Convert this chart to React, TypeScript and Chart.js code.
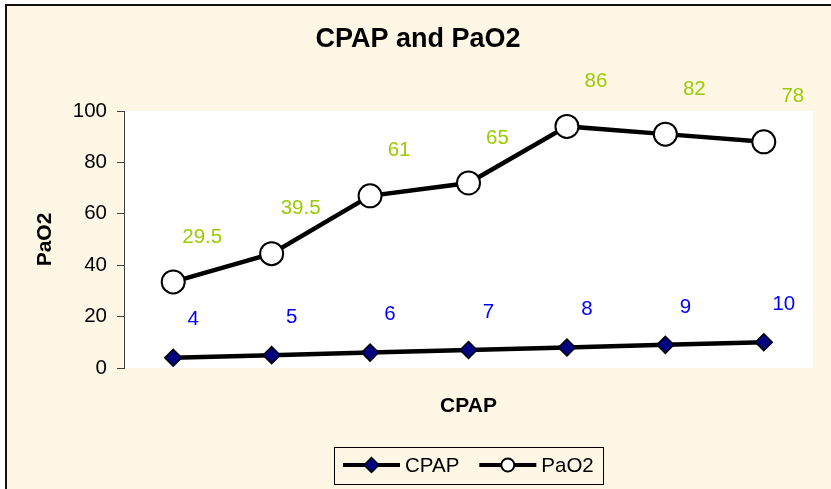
import React, { useEffect, useRef } from "react";
import { Chart, registerables } from "chart.js";

Chart.register(...registerables);

const categories = ["1", "2", "3", "4", "5", "6", "7"];
const cpapValues = [4, 5, 6, 7, 8, 9, 10];
const pao2Values = [29.5, 39.5, 61, 65, 86, 82, 78];
const yTicks = [0, 20, 40, 60, 80, 100];

const FONT = "'Liberation Sans', Arial, sans-serif";
const BG = "#FFF7E6";

const plotBgPlugin = {
  id: "plotBg",
  beforeDraw(chart: any) {
    const { ctx, chartArea } = chart;
    ctx.save();
    ctx.fillStyle = "#FFFFFF";
    ctx.fillRect(chartArea.left, chartArea.top, chartArea.right - chartArea.left, chartArea.bottom - chartArea.top);
    ctx.restore();
  },
};

const dataLabelPlugin = {
  id: "dataLabels",
  afterDatasetsDraw(chart: any) {
    const { ctx } = chart;
    ctx.save();
    ctx.font = `20.5px ${FONT}`;
    ctx.textAlign = "center";
    ctx.textBaseline = "middle";
    chart.data.datasets.forEach((ds: any, di: number) => {
      const meta = chart.getDatasetMeta(di);
      const off = ds.labelOffset || { dx: 0, dy: -30 };
      ctx.fillStyle = ds.labelColor || "#000";
      meta.data.forEach((pt: any, i: number) => {
        ctx.fillText(String(ds.data[i]), pt.x + off.dx, pt.y + off.dy);
      });
    });
    ctx.restore();
  },
};

function drawDiamond(ctx: CanvasRenderingContext2D, x: number, y: number, r: number) {
  ctx.beginPath();
  ctx.moveTo(x - r, y);
  ctx.lineTo(x, y - r);
  ctx.lineTo(x + r, y);
  ctx.lineTo(x, y + r);
  ctx.closePath();
  ctx.fillStyle = "#000080";
  ctx.fill();
  ctx.lineWidth = 1.5;
  ctx.strokeStyle = "#000";
  ctx.stroke();
}

function drawCircle(ctx: CanvasRenderingContext2D, x: number, y: number, r: number) {
  ctx.beginPath();
  ctx.arc(x, y, r, 0, Math.PI * 2);
  ctx.fillStyle = "#FFFFFF";
  ctx.fill();
  ctx.lineWidth = 2;
  ctx.strokeStyle = "#000";
  ctx.stroke();
}

const legendPlugin = {
  id: "customLegend",
  afterDraw(chart: any) {
    const { ctx } = chart;
    const cx = 468;
    const cy = 465;
    const lineLen = 57;
    const gapText = 5;
    const gapItems = 20;
    const pad = 9;
    ctx.save();
    ctx.font = `20.5px ${FONT}`;
    const items = chart.data.datasets.map((ds: any) => ({
      label: ds.label,
      w: ctx.measureText(ds.label).width,
      marker: ds.pointStyle,
    }));
    let total = pad * 2;
    items.forEach((it: any, i: number) => {
      total += lineLen + gapText + it.w + (i > 0 ? gapItems : 0);
    });
    const left = Math.round(cx - total / 2);
    const boxH = 37;
    ctx.strokeStyle = "#000";
    ctx.lineWidth = 1;
    ctx.strokeRect(left + 0.5, Math.round(cy - boxH / 2) + 0.5, Math.round(total), boxH);
    let x = left + pad;
    items.forEach((it: any, i: number) => {
      if (i > 0) x += gapItems;
      ctx.beginPath();
      ctx.moveTo(x, cy);
      ctx.lineTo(x + lineLen, cy);
      ctx.lineWidth = 4;
      ctx.strokeStyle = "#000";
      ctx.stroke();
      if (it.marker === "rectRot") drawDiamond(ctx, x + lineLen / 2, cy, 7.5);
      else drawCircle(ctx, x + lineLen / 2, cy, 6.5);
      x += lineLen + gapText;
      ctx.fillStyle = "#000";
      ctx.textAlign = "left";
      ctx.textBaseline = "middle";
      ctx.fillText(it.label, x, cy + 1);
      x += it.w;
    });
    ctx.restore();
  },
};

export default function App() {
  const ref = useRef<HTMLCanvasElement | null>(null);

  useEffect(() => {
    if (!ref.current) return;
    const chart = new Chart(ref.current, {
      type: "line",
      data: {
        labels: categories,
        datasets: [
          {
            label: "CPAP",
            data: cpapValues,
            borderColor: "#000",
            borderWidth: 4.5,
            tension: 0,
            pointStyle: "rectRot",
            pointRadius: 8.5,
            pointBackgroundColor: "#000080",
            pointBorderColor: "#000",
            pointBorderWidth: 1.5,
            labelColor: "#0000FF",
            labelOffset: { dx: 20, dy: -38 },
          } as any,
          {
            label: "PaO2",
            data: pao2Values,
            borderColor: "#000",
            borderWidth: 4.5,
            tension: 0,
            pointStyle: "circle",
            pointRadius: 11.5,
            pointBackgroundColor: "#FFFFFF",
            pointBorderColor: "#000",
            pointBorderWidth: 2,
            labelColor: "#99CC00",
            labelOffset: { dx: 29, dy: -45 },
          } as any,
        ],
      },
      options: {
        animation: false,
        responsive: false,
        maintainAspectRatio: false,
        layout: { padding: { left: 5, right: 0, top: 0, bottom: 70.4 } },
        plugins: {
          legend: { display: false },
          tooltip: { enabled: false },
          title: {
            display: true,
            text: "CPAP and PaO2",
            color: "#000",
            font: { family: FONT, size: 27, weight: "bold", lineHeight: 1.2 },
            padding: { top: 23.8, bottom: 54.8 },
          },
        },
        scales: {
          x: {
            type: "category",
            offset: true,
            grid: { display: false, drawTicks: false },
            border: { display: false },
            ticks: { display: false },
            title: {
              display: true,
              text: "CPAP",
              color: "#000",
              font: { family: FONT, size: 21, weight: "bold", lineHeight: 1.2 },
              padding: { top: 25.4, bottom: 0 },
            },
            afterFit(scale: any) {
              scale.height = 50.6;
            },
          },
          y: {
            stacked: true,
            min: 0,
            max: 100,
            afterBuildTicks(scale: any) {
              scale.ticks = yTicks.map((v) => ({ value: v }));
            },
            grid: { display: true, drawOnChartArea: false, drawTicks: true, tickLength: 7, color: "#404040" },
            border: { display: true, color: "#404040", width: 1 },
            ticks: {
              color: "#000",
              padding: 10,
              font: { family: FONT, size: 20.5 },
            },
            title: {
              display: true,
              text: "PaO2",
              color: "#000",
              font: { family: FONT, size: 21, weight: "bold", lineHeight: 1.2 },
              padding: { top: 27.4, bottom: 0 },
            },
            afterFit(scale: any) {
              scale.width = 119;
            },
          },
          yRightSpace: {
            type: "linear",
            position: "right",
            display: true,
            grid: { display: false, drawTicks: false },
            border: { display: false },
            ticks: { display: false },
            afterFit(scale: any) {
              scale.width = 18;
            },
          },
        },
      } as any,
      plugins: [plotBgPlugin, dataLabelPlugin, legendPlugin],
    });
    return () => chart.destroy();
  }, []);

  return (
    <div style={{ position: "absolute", left: 0, top: 0, width: 831, height: 489, background: "#FFFFFF" }}>
      <div
        style={{
          position: "absolute",
          left: 5,
          top: 4,
          width: 826,
          height: 485,
          background: BG,
          borderTop: "2px solid #111",
          borderLeft: "2px solid #111",
          boxSizing: "border-box",
        }}
      />
      <canvas ref={ref} width={831} height={489} style={{ position: "absolute", left: 0, top: 0, width: 831, height: 489 }} />
    </div>
  );
}
